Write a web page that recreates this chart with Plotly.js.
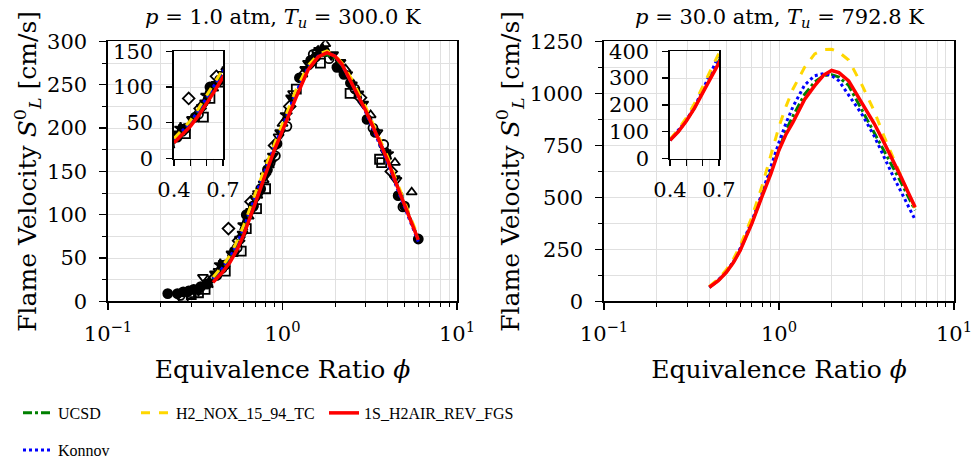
<!DOCTYPE html>
<html>
<head>
<meta charset="utf-8">
<script src="https://cdn.plot.ly/plotly-3.0.1.min.js"></script>
<style>html,body{margin:0;padding:0;background:#fff;}#chart{width:975px;height:467px;}</style>
</head>
<body>
<div id="chart"></div>
<script>
// ---------- data ----------
const phi = [0.4,0.45,0.5,0.55,0.6,0.65,0.7,0.8,0.9,1.0,1.1,1.2,1.4,1.6,1.8,2.0,2.2,2.5,3.0,3.5,4.0,4.5,5.0,5.5,6.0];

// p = 1 atm, Tu = 300 K
const ucsd1   = [25,36,49,65,82,100,119,150,178,200,222,240,269,282,285,281,272,253,221,191,164,136,113,92,72];
const konnov1 = [26,38,51,67,85,103,122,153,180,202,223,242,270,283,288,283,272,251,218,188,160,132,109,88,69];
const h2nox1  = [28,40,53,70,88,106,125,156,183,205,226,245,272,285,289,284,275,256,224,194,167,139,116,95,74];
const fgs1    = [22,33,45,60,77,95,114,147,175,197,218,236,267,282,287,283,273,252,220,190,163,135,112,91,71];

// p = 30 atm, Tu = 792.8 K
const ucsd30   = [68,101,141,190,248,313,378,510,625,738,825,890,995,1055,1085,1090,1078,1038,915,815,725,645,570,500,438];
const konnov30 = [68,103,142,192,255,320,385,520,650,765,860,935,1040,1085,1095,1085,1060,990,895,795,690,600,525,455,392];
const h2nox30  = [72,108,152,205,268,335,405,555,700,840,940,1020,1125,1190,1210,1212,1198,1160,1035,915,790,685,598,518,445];
const fgs30    = [68,100,140,188,245,310,375,505,615,728,806,860,971,1037,1088,1110,1100,1060,949,855,760,675,595,520,453];

// experimental data, p = 1 atm
const expA_phi = [0.22,0.25,0.27,0.29,0.31,0.34,0.37,0.42,0.47,0.53,0.62,0.68,0.75,0.82,0.93,1.25,1.45,1.55,1.75,2.05,2.25,2.45,3.05,3.4,4.6,5.0,6.0];
const expA_S   = [9,9,11,12,14,17,20,30,42,58,100,110,130,152,182,258,278,282,288,270,262,252,210,195,122,110,72];
const expB_phi = [0.26,0.3,0.45,0.55,0.68,0.85,0.91,1.06,1.5,1.85,2.6,3.3,3.8,4.9];
const expB_S   = [7,10,38,62,110,160,168,202,285,280,245,200,181,109];
const expC_phi = [0.27,0.3,0.33,0.36,0.47,0.58,0.62,0.71,0.8,1.2,1.65,2.44,3.6,3.7];
const expC_S   = [5,8,10,14,35,58,84,107,130,245,275,240,164,160];
const expD_phi = [0.49,0.56,0.66,0.9,1.1,1.45,1.6,2.1,2.8,4.2];
const expD_S   = [84,70,115,180,225,275,288,272,235,150];
const expE_phi = [0.4,0.52,0.64,0.78,1.0,1.3,1.76,2.3,3.2,4.41,5.5];
const expE_S   = [28,55,98,140,205,262,297,268,215,160,126];
const expF_phi = [0.35,0.43,0.57,0.7,0.95,1.15,1.4,1.95,2.5,3.5,4.5];
const expF_S   = [28,35,72,118,190,240,275,285,250,195,140];
const expG_phi = [0.38,0.44,0.6,0.73,0.85,1.05,1.7,2.7,4.0];
const expG_S   = [22,42,88,125,160,215,290,240,170];
const expH_phi = [0.33,0.41,0.46,0.51,0.59,0.66,0.72,0.8,0.88,0.97,1.12,1.35,1.62,1.9,2.15,2.35,2.9,3.9,4.4];
const expH_S   = [12,32,44,55,78,104,122,145,168,195,235,268,290,284,276,262,228,172,142];

const titles = ['<i>p</i> = 1.0 atm, <i>T<sub>u</sub></i> = 300.0 K',
                '<i>p</i> = 30.0 atm, <i>T<sub>u</sub></i> = 792.8 K'];
const names = ['UCSD','Konnov','H2_NOX_15_94_TC','1S_H2AIR_REV_FGS'];
const yLabel = 'Flame Velocity <i>S</i><sup>0</sup><sub><i>L</i></sub> [cm/s]';
const xLabel = 'Equivalence Ratio <i>ϕ</i>';

// ---------- styling ----------
const FONT = 'DejaVu Serif';
const W = 975, H = 467;
const px = (a,b) => [a/W, b/W];
const py = (top,bot) => [1-bot/H, 1-top/H];
const styles = [
  {color:'#008000', dash:'dashdot', width:3},
  {color:'#0000ff', dash:'dot', width:3},
  {color:'#ffd700', dash:'dash', width:3},
  {color:'#ff0000', dash:'solid', width:3.5}
];
const legendIds = ['legend','legend4','legend2','legend3'];
const gridc = '#e0e0e0';

const traces = [];
const exps = [
  [expA_phi, expA_S, 'circle'],
  [expB_phi, expB_S, 'circle-open'],
  [expC_phi, expC_S, 'square-open'],
  [expD_phi, expD_S, 'diamond-open'],
  [expE_phi, expE_S, 'triangle-up-open'],
  [expF_phi, expF_S, 'triangle-down-open'],
  [expG_phi, expG_S, 'star'],
  [expH_phi, expH_S, 'triangle-down']
];
for (const ax of [['x','y'],['x3','y3']]) {
  for (const [xs, ys, sym] of exps) {
    traces.push({x:xs, y:ys, xaxis:ax[0], yaxis:ax[1], mode:'markers', showlegend:false,
      marker:{symbol:sym, size:9, color:'black', line:{color:'black', width:1.8}}});
  }
}
const set1 = [ucsd1, konnov1, h2nox1, fgs1];
const set30 = [ucsd30, konnov30, h2nox30, fgs30];
const panels = [[set1,'x','y',false],[set1,'x3','y3',false],[set30,'x2','y2',true],[set30,'x4','y4',false]];
for (const [set, xa, ya, leg] of panels) {
  set.forEach((vals,i) => {
    traces.push({x:phi, y:vals, xaxis:xa, yaxis:ya, mode:'lines', name:names[i],
      line:styles[i], showlegend:leg, legend:legendIds[i]});
  });
}

const minorLog = [0.2,0.3,0.4,0.5,0.6,0.7,0.8,0.9,2,3,4,5,6,7,8,9];
function logX(dom) {
  return {domain:dom, type:'log', range:[-1,1], tickmode:'array', tickvals:[0.1,1,10],
    ticktext:['10<sup>−1</sup>','10<sup>0</sup>','10<sup>1</sup>'],
    ticks:'outside', ticklen:7, tickwidth:1.3, tickcolor:'black', ticklabelstandoff:6,
    showline:true, linecolor:'black', linewidth:1.6, mirror:true,
    showgrid:true, gridcolor:gridc, gridwidth:1, zeroline:false,
    minor:{tickmode:'array', tickvals:minorLog, ticks:'outside', ticklen:4, tickwidth:1, tickcolor:'black', showgrid:true, gridcolor:gridc},
    title:{text:xLabel, standoff:15}, automargin:false};
}
function linY(dom, top, step, anchor) {
  const tv=[]; for(let v=0; v<=top+1e-9; v+=step) tv.push(v);
  return {domain:dom, anchor:anchor, range:[0,top], tickmode:'array', tickvals:tv,
    ticks:'outside', ticklen:7, tickwidth:1.3, tickcolor:'black', ticklabelstandoff:8,
    showline:true, linecolor:'black', linewidth:1.6, mirror:true,
    showgrid:true, gridcolor:gridc, zeroline:false,
    minor:{dtick:step/2, ticks:'outside', ticklen:4, tickwidth:1, tickcolor:'black', showgrid:true, gridcolor:gridc},
    title:{text:yLabel, standoff:3}, automargin:false};
}
function insetX(dom, anchor) {
  return {domain:dom, anchor:anchor, range:[0.4,0.7], tickmode:'array', tickvals:[0.4,0.7],
    ticks:'outside', ticklen:6, tickwidth:1.3, tickcolor:'black', ticklabelstandoff:6,
    minor:{tickmode:'array', tickvals:[0.5,0.6], ticks:'outside', ticklen:6, tickwidth:1.3, tickcolor:'black', showgrid:true, gridcolor:gridc},
    showline:true, linecolor:'black', linewidth:1.6, mirror:true,
    showgrid:true, gridcolor:gridc, zeroline:false, automargin:false};
}
function insetY(dom, top, step, anchor) {
  const tv=[]; for(let v=0; v<=top+1e-9; v+=step) tv.push(v);
  return {domain:dom, anchor:anchor, range:[0,top], tickmode:'array', tickvals:tv,
    ticks:'outside', ticklen:6, tickwidth:1.3, tickcolor:'black', ticklabelstandoff:9,
    showline:true, linecolor:'black', linewidth:1.6, mirror:true,
    showgrid:true, gridcolor:gridc, zeroline:false, automargin:false};
}

const ax1 = logX(px(108,457)); ax1.anchor='y';
const ax2 = logX(px(604,954)); ax2.anchor='y2';
const legBase = {xanchor:'left', yanchor:'top', bgcolor:'rgba(0,0,0,0)', borderwidth:0,
  font:{family:'Liberation Serif', size:16, color:'black'}, orientation:'v'};

const layout = {
  width:W, height:H, margin:{l:0,r:0,t:0,b:0},
  paper_bgcolor:'white', plot_bgcolor:'white',
  font:{family:FONT, size:21, color:'black'},
  xaxis:ax1, yaxis:linY(py(42,306), 300, 50, 'x'),
  xaxis2:ax2, yaxis2:linY(py(42,306), 1250, 250, 'x2'),
  xaxis3:insetX(px(174,223),'y3'), yaxis3:insetY(py(52,161),150,50,'x3'),
  xaxis4:insetX(px(670,719),'y4'), yaxis4:insetY(py(52,161),400,100,'x4'),
  legend:Object.assign({}, legBase, {x:18/W, y:1-402/H}),
  legend4:Object.assign({}, legBase, {x:18/W, y:1-440/H}),
  legend2:Object.assign({}, legBase, {x:136/W, y:1-402/H}),
  legend3:Object.assign({}, legBase, {x:324/W, y:1-402/H}),
  shapes:[
    {type:'rect', xref:'x3', yref:'y3', x0:0.4, x1:0.7, y0:0, y1:150, fillcolor:'white', line:{width:0}, layer:'below'},
    {type:'rect', xref:'x4', yref:'y4', x0:0.4, x1:0.7, y0:0, y1:400, fillcolor:'white', line:{width:0}, layer:'below'}
  ],
  annotations:[
    {text:titles[0], xref:'paper', yref:'paper', x:282.5/W, y:1-18/H, xanchor:'center', yanchor:'middle', showarrow:false, font:{size:21}},
    {text:titles[1], xref:'paper', yref:'paper', x:779/W, y:1-18/H, xanchor:'center', yanchor:'middle', showarrow:false, font:{size:21}}
  ]
};

Plotly.newPlot('chart', traces, layout, {staticPlot:true, displayModeBar:false});
</script>
</body>
</html>
